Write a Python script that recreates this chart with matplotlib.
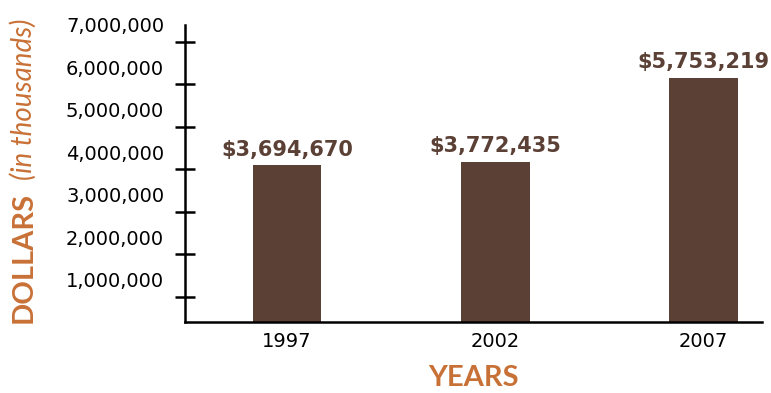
import numpy as np
import matplotlib.pyplot as plt

# sales figures per census year
years = ["1997", "2002", "2007"]
dollars = [3694670, 3772435, 5753219]
value_labels = ["$3,694,670", "$3,772,435", "$5,753,219"]
y_ticks = [1000000, 2000000, 3000000, 4000000, 5000000, 6000000, 7000000]
y_tick_labels = ["1,000,000", "2,000,000", "3,000,000", "4,000,000",
                 "5,000,000", "6,000,000", "7,000,000"]

BROWN = "#5b4036"
ORANGE = "#c87137"

fig = plt.figure(figsize=(7.71, 3.93), dpi=100)
ax = fig.add_axes([185 / 771, 71 / 393, 577 / 771, 297 / 393])

x = np.arange(len(years))
bars = ax.bar(x, dollars, width=0.33, color=BROWN, zorder=2)

for xi, val, lab in zip(x, dollars, value_labels):
    ax.annotate(lab, (xi, val), xytext=(0, 4), textcoords="offset points",
                ha="center", va="bottom", fontsize=15, fontweight="bold",
                color=BROWN, family="DejaVu Sans")

ax.set_xlim(-0.49, 2.28)
ax.set_ylim(0, 6.96e6)

ax.set_xticks(x)
ax.set_xticklabels(years, fontsize=14)
ax.tick_params(axis="x", length=0, pad=7)

# labels sit on the round values, the marks just below them
ax.set_yticks(y_ticks)
ax.set_yticklabels(y_tick_labels, fontsize=14)
ax.tick_params(axis="y", which="major", length=0, pad=15)
ax.set_yticks([t - 400000 for t in y_ticks], minor=True)
ax.tick_params(axis="y", which="minor", direction="inout", length=15, width=1.8, color="black")

for side in ["top", "right"]:
    ax.spines[side].set_visible(False)
for side in ["left", "bottom"]:
    ax.spines[side].set_linewidth(1.8)

ax.set_xlabel("YEARS", fontsize=21, fontweight="bold", color=ORANGE, family="Lato", labelpad=10)

fig.text(32 / 771, (393 - 323) / 393, "DOLLARS", rotation=90, rotation_mode="anchor",
         ha="left", va="baseline", fontsize=21, fontweight="bold", color=ORANGE, family="Lato")
fig.text(32 / 771, (393 - 180) / 393, "(in thousands)", rotation=90, rotation_mode="anchor",
         ha="left", va="baseline", fontsize=20, fontweight="normal", style="italic",
         color=ORANGE, family="Lato")

fig.savefig("out.png", dpi=100)
